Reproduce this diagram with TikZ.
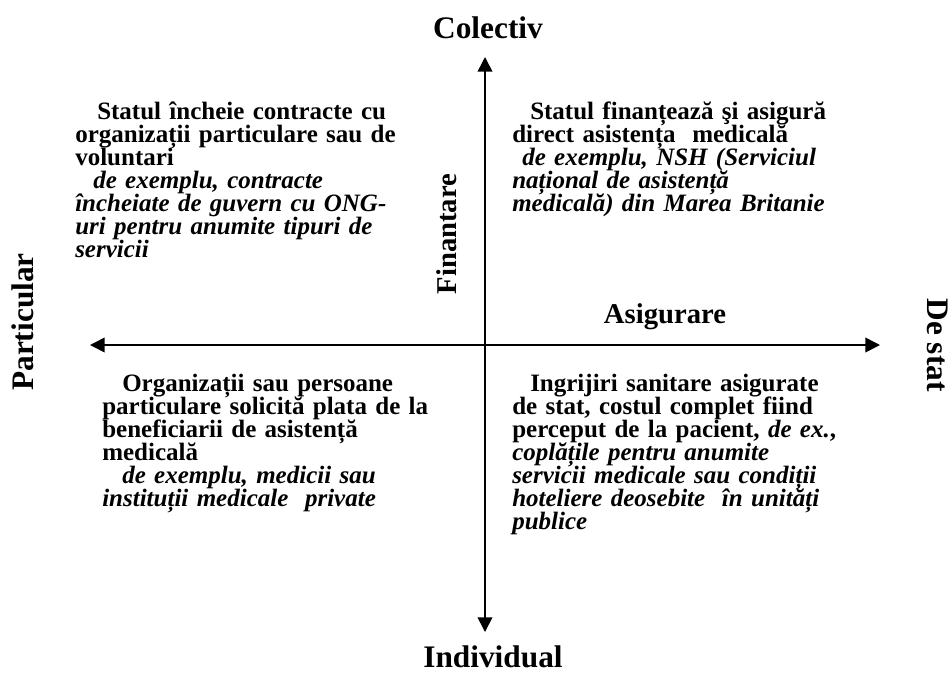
\documentclass[tikz,border=0pt]{standalone}
\usepackage{fontspec}
\setmainfont{Liberation Serif}
\usetikzlibrary{arrows.meta}

\begin{document}
\begin{tikzpicture}[x=0.75pt, y=-0.75pt,
    axis/.style={line width=1.2pt, {Triangle[length=11pt,width=11pt]}-{Triangle[length=11pt,width=11pt]}},
    pole/.style={font=\fontsize{23.5}{28}\selectfont\bfseries, inner sep=0pt},
    axislabel/.style={font=\fontsize{21.5}{26}\selectfont\bfseries, inner sep=0pt},
    quadrant/.style={font={\fontsize{18.75}{17.25}\selectfont\bfseries\setlength{\lineskiplimit}{-20pt}},
        align=left, text width=300pt, anchor=base west, inner sep=0pt}]
    \useasboundingbox (0,0) rectangle (950,672);
    \coordinate (top) at (485,57);
    \coordinate (bottom) at (485,632);
    \coordinate (left) at (90,345);
    \coordinate (right) at (880,345);
    \draw[axis] (bottom) -- (top);
    \draw[axis] (left) -- (right);

    \node[pole, anchor=base] (colectiv) at (488,38) {Colectiv};
    \node[pole, anchor=base] (individual) at (493,667) {Individual};
    \node[pole, anchor=base, rotate=90] (particular) at (33,322) {Particular};
    \node[pole, anchor=base, rotate=-90] (destat) at (927,345) {De stat};
    \node[axislabel, anchor=base, rotate=90] (finantare) at (456,234) {Finantare};
    \node[axislabel, anchor=base] (asigurare) at (665,323) {Asigurare};

    \node[quadrant] (tl) at (75,119) {\hspace*{16.5pt}Statul încheie contracte cu\\
        organizații particulare sau de\\
        voluntari\\
        \itshape\hspace*{13.5pt}de exemplu, contracte\\
        încheiate de guvern cu ONG-\\
        uri pentru anumite tipuri de\\
        servicii};
    \node[quadrant] (tr) at (512,119) {\hspace*{13.5pt}Statul finanțează şi asigură\\
        direct asistența\ \ medicală\\
        \itshape\hspace*{7.5pt}de exemplu, NSH (Serviciul\\
        național de asistență\\
        medicală) din Marea Britanie};
    \node[quadrant] (bl) at (102,391) {\hspace*{15pt}Organizații sau persoane\\
        particulare solicită plata de la\\
        beneficiarii de asistență\\
        medicală\\
        \itshape\hspace*{15pt}de exemplu, medicii sau\\
        instituții medicale\ \ private};
    \node[quadrant] (br) at (512,391) {\hspace*{13.5pt}Ingrijiri sanitare asigurate\\
        de stat, costul complet fiind\\
        perceput de la pacient, \textit{de ex.},\\
        \itshape coplățile pentru anumite\\
        servicii medicale sau condiții\\
        hoteliere deosebite\ \ în unități\\
        publice};
\end{tikzpicture}
\end{document}
